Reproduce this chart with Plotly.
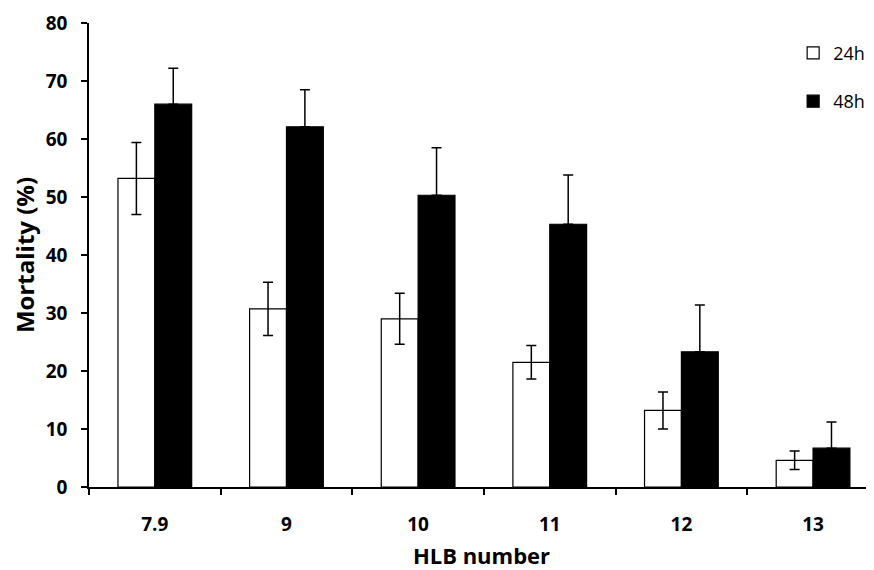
import plotly.graph_objects as go

categories = ["7.9", "9", "10", "11", "12", "13"]
mort_24h = [53.2, 30.7, 29.0, 21.5, 13.2, 4.6]
err_24h = [6.2, 4.6, 4.4, 2.9, 3.2, 1.6]
mort_48h = [66.0, 62.1, 50.3, 45.3, 23.3, 6.7]
err_48h = [6.2, 6.4, 8.2, 8.5, 8.1, 4.5]
y_ticks = [0, 10, 20, 30, 40, 50, 60, 70, 80]

FONT = "Open Sans"

fig = go.Figure()
fig.add_trace(go.Bar(
    x=categories, y=mort_24h, name="24h", legendgroup="a",
    marker=dict(color="white", line=dict(color="black", width=1.2)),
    error_y=dict(type="data", array=err_24h, visible=True, color="black", thickness=1.5, width=5),
))
fig.add_trace(go.Bar(
    x=categories, y=mort_48h, name="48h", legendgroup="b",
    marker=dict(color="black", line=dict(color="black", width=1.2)),
    error_y=dict(type="data", array=err_48h, arrayminus=[0]*len(err_48h), symmetric=False,
                 visible=True, color="black", thickness=1.5, width=5),
))

# page body has an 8px default margin; figure sized to fit the 874x570 window
fig.update_layout(
    width=866, height=562,
    margin=dict(l=81, r=0, t=15, b=83),
    paper_bgcolor="white", plot_bgcolor="white",
    barmode="group", bargap=0.44, bargroupgap=0,
    font=dict(family=FONT, color="black"),
    legend=dict(x=0.897, y=0.975, xanchor="left", yanchor="top",
                font=dict(size=18, family=FONT), tracegroupgap=22,
                traceorder="grouped", bgcolor="rgba(0,0,0,0)", itemwidth=30),
    xaxis=dict(
        type="category", range=[-0.5, 5.463], automargin=False,
        showline=True, linecolor="black", linewidth=1.5,
        ticks="outside", tickson="boundaries", ticklen=6, tickwidth=1.5, tickcolor="black",
        tickfont=dict(size=19, family=FONT, weight="bold"),
        ticklabelstandoff=19,
        title=dict(text="<b>HLB number</b>", font=dict(size=22, family=FONT), standoff=17),
        showgrid=False, zeroline=False,
    ),
    yaxis=dict(
        range=[0, 80], tickvals=y_ticks, automargin=False,
        showline=True, linecolor="black", linewidth=1.5,
        ticks="outside", ticklen=6, tickwidth=1.5, tickcolor="black",
        tickfont=dict(size=19, family=FONT, weight="bold"),
        ticklabelstandoff=10,
        title=dict(text="<b>Mortality (%)</b>", font=dict(size=24, family=FONT), standoff=6),
        showgrid=False, zeroline=False,
    ),
)

fig.write_html("out.html")
